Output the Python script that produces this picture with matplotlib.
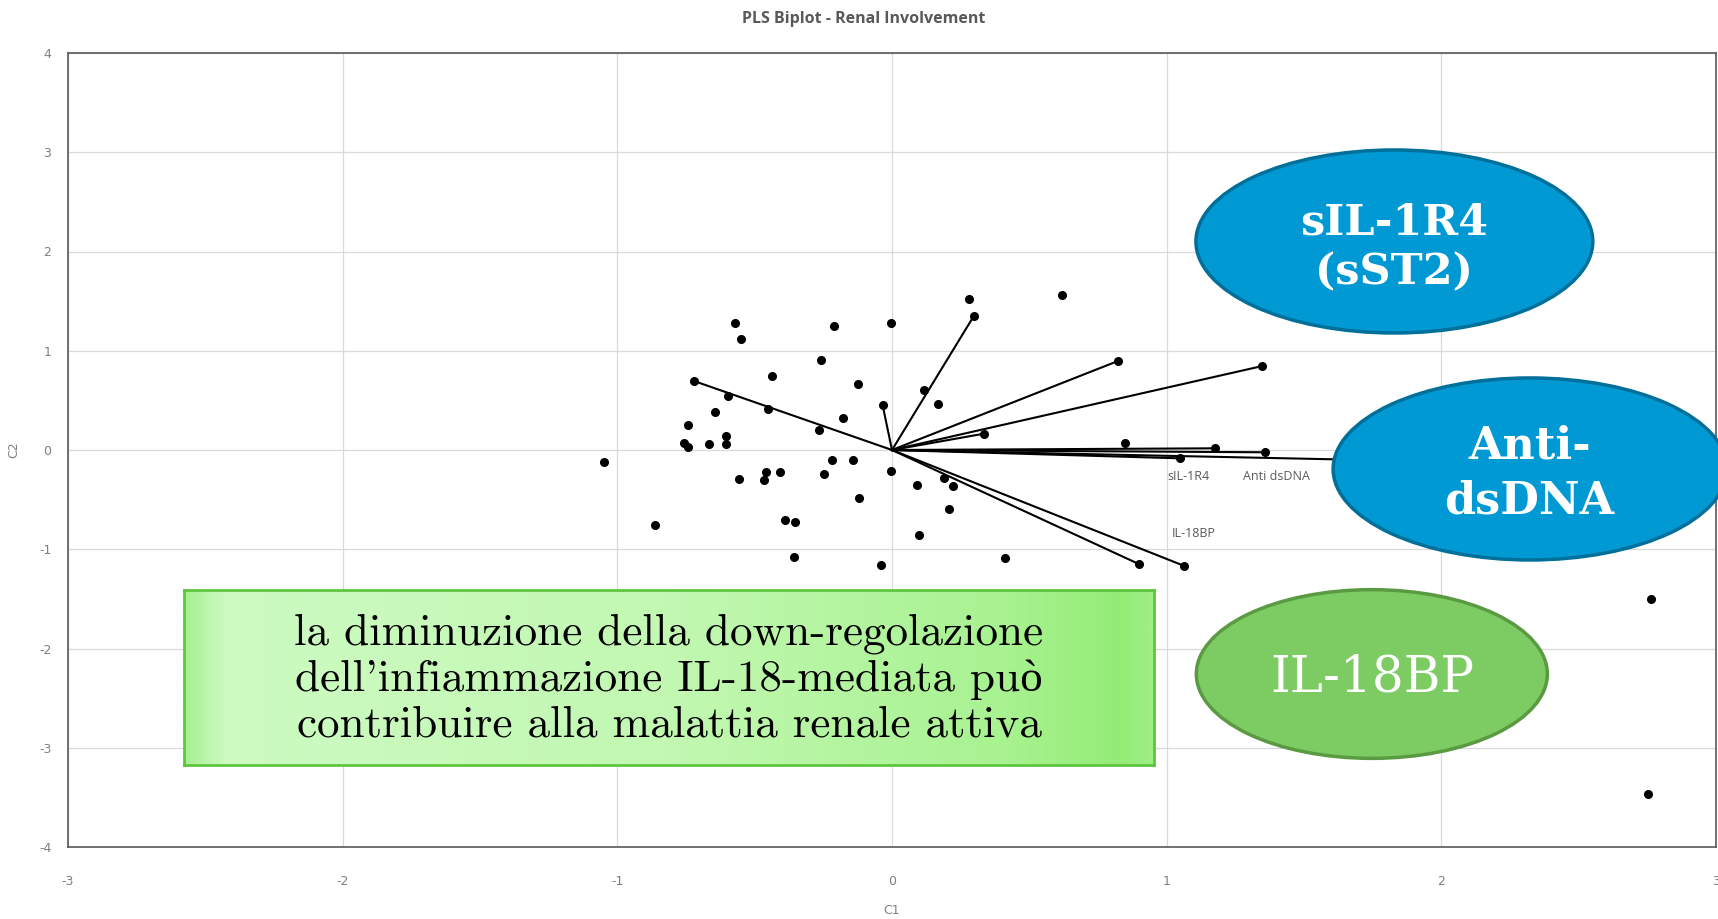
import numpy as np
import matplotlib
matplotlib.use("Agg")
import matplotlib.pyplot as plt
from matplotlib.patches import Ellipse
from matplotlib.colors import LinearSegmentedColormap

plt.rcParams["axes.unicode_minus"] = False

# PLS scores (observations)
score_x = [-0.572, -0.551, -0.212, -0.005, 0.279, 0.620, -0.257, -0.438, -0.125, -0.596,
           -0.644, -0.453, 0.118, 0.166, -0.180, -0.743, -0.267, -0.606, -0.606, -0.667,
           -0.756, -0.743, -1.049, -0.218, -0.141, -0.004, -0.460, -0.466, -0.408, -0.558,
           -0.246, 0.091, 0.191, 0.223, -0.121, 0.208, -0.864, -0.390, -0.353, 0.097,
           -0.356, -0.040, 0.411, 0.848, 2.762, 2.751]
score_y = [1.275, 1.121, 1.245, 1.279, 1.520, 1.560, 0.909, 0.748, 0.668, 0.547,
           0.386, 0.413, 0.601, 0.463, 0.326, 0.252, 0.198, 0.141, 0.060, 0.064,
           0.070, 0.034, -0.124, -0.104, -0.101, -0.211, -0.221, -0.305, -0.225, -0.292,
           -0.242, -0.349, -0.285, -0.362, -0.487, -0.597, -0.758, -0.701, -0.728, -0.859,
           -1.077, -1.158, -1.084, 0.067, -1.50, -3.47]

# loading vectors (from origin)
load_x = [-0.721, -0.034, 0.297, 0.822, 1.348, 0.334, 1.176, 1.358, 1.050, 1.85, 0.898, 1.064]
load_y = [0.695, 0.450, 1.346, 0.896, 0.846, 0.164, 0.017, -0.023, -0.084, -0.108, -1.148, -1.168]

var_labels = ["sIL-1R4", "Anti dsDNA", "IL-18BP"]
x_ticks = [-3, -2, -1, 0, 1, 2, 3]
y_ticks = [-4, -3, -2, -1, 0, 1, 2, 3, 4]

W, H = 1718, 919
fig = plt.figure(figsize=(W / 100, H / 100), dpi=100)
ax = fig.add_axes([68 / W, 1 - 847 / H, 1648 / W, 794 / H])

ax.set_xlim(-3, 3)
ax.set_ylim(-4, 4)
ax.set_xticks(x_ticks)
ax.set_yticks(y_ticks)
ax.grid(True, color="#d9d9d9", linewidth=0.9, zorder=0)
ax.set_axisbelow(True)
for s in ax.spines.values():
    s.set_color("#595959")
    s.set_linewidth(1.2)
ax.tick_params(length=0, labelsize=9, labelcolor="#7f7f7f")
ax.tick_params(axis="x", pad=20)
ax.tick_params(axis="y", pad=12)

for lx, ly in zip(load_x, load_y):
    ax.plot([0, lx], [0, ly], color="black", linewidth=1.5, zorder=2)
ax.plot(load_x, load_y, "o", color="black", markersize=5.5, zorder=3)
ax.plot(score_x, score_y, "o", color="black", markersize=5.5, zorder=3)

lab_kw = dict(color="#595959", fontsize=9, ha="center", va="center", family="Open Sans")
ax.text(1.08, -0.27, var_labels[0], **lab_kw)
ax.text(1.40, -0.27, var_labels[1], **lab_kw)
ax.text(1.10, -0.84, var_labels[2], **lab_kw)

ax.set_xlabel("C1", color="#7f7f7f", fontsize=9)
ax.set_ylabel("C2", color="#7f7f7f", fontsize=9)
ax.xaxis.set_label_coords(0.5, -0.072)
ax.yaxis.set_label_coords(-0.029, 0.5)

fig.text(864 / W, 1 - 19 / H, "PLS Biplot - Renal Involvement", ha="center", va="center",
         fontsize=11.5, fontweight="bold", color="#595959", family="Open Sans")

# callout ellipses
blue, blue_edge = "#0099d4", "#006f99"
green, green_edge = "#7dcb63", "#5a9a42"
e1 = Ellipse((1.829, 2.101), 1.445, 1.844, facecolor=blue, edgecolor=blue_edge, linewidth=2.5,
             zorder=5, clip_on=False)
e2 = Ellipse((2.323, -0.191), 1.434, 1.834, facecolor=blue, edgecolor=blue_edge, linewidth=2.5,
             zorder=5, clip_on=False)
e3 = Ellipse((1.747, -2.257), 1.278, 1.70, facecolor=green, edgecolor=green_edge, linewidth=2.5,
             zorder=5, clip_on=False)
for e in (e1, e2, e3):
    ax.add_patch(e)
ax.text(1.829, 2.04, "sIL-1R4\n(sST2)", color="white", fontsize=31, fontweight="bold",
        family="DejaVu Serif", ha="center", va="center", linespacing=1.25, zorder=6)
ax.text(2.32, -0.24, "Anti-\ndsDNA", color="white", fontsize=32, fontweight="bold",
        family="DejaVu Serif", ha="center", va="center", linespacing=1.35, zorder=6)
ax.text(1.747, -2.29, "IL-18BP", color="white", fontsize=36,
        family="DejaVu Serif", ha="center", va="center", zorder=6)

# green text box with gradient
bx = fig.add_axes([184 / W, 1 - 765 / H, 970 / W, 175 / H])
cmap = LinearSegmentedColormap.from_list("g", [
    (0.0, "#a8f093"), (0.04, "#cdfbc2"), (0.5, "#c2f8b2"),
    (0.85, "#a8f290"), (0.97, "#93ec76"), (1.0, "#a0ee86")])
grad = np.linspace(0, 1, 400).reshape(1, -1)
bx.imshow(grad, cmap=cmap, aspect="auto", extent=[0, 1, 0, 1], zorder=0)
bx.set_xlim(0, 1)
bx.set_ylim(0, 1)
bx.set_xticks([])
bx.set_yticks([])
for s in bx.spines.values():
    s.set_color("#5dc63f")
    s.set_linewidth(2)
bx.text(0.5, 0.49, "la diminuzione della down-regolazione\ndell'infiammazione IL-18-mediata può\n"
        "contribuire alla malattia renale attiva", ha="center", va="center",
        fontsize=32.5, family=["cmr10", "Liberation Serif"], linespacing=1.18, color="black")

fig.savefig("out.png", dpi=100)
